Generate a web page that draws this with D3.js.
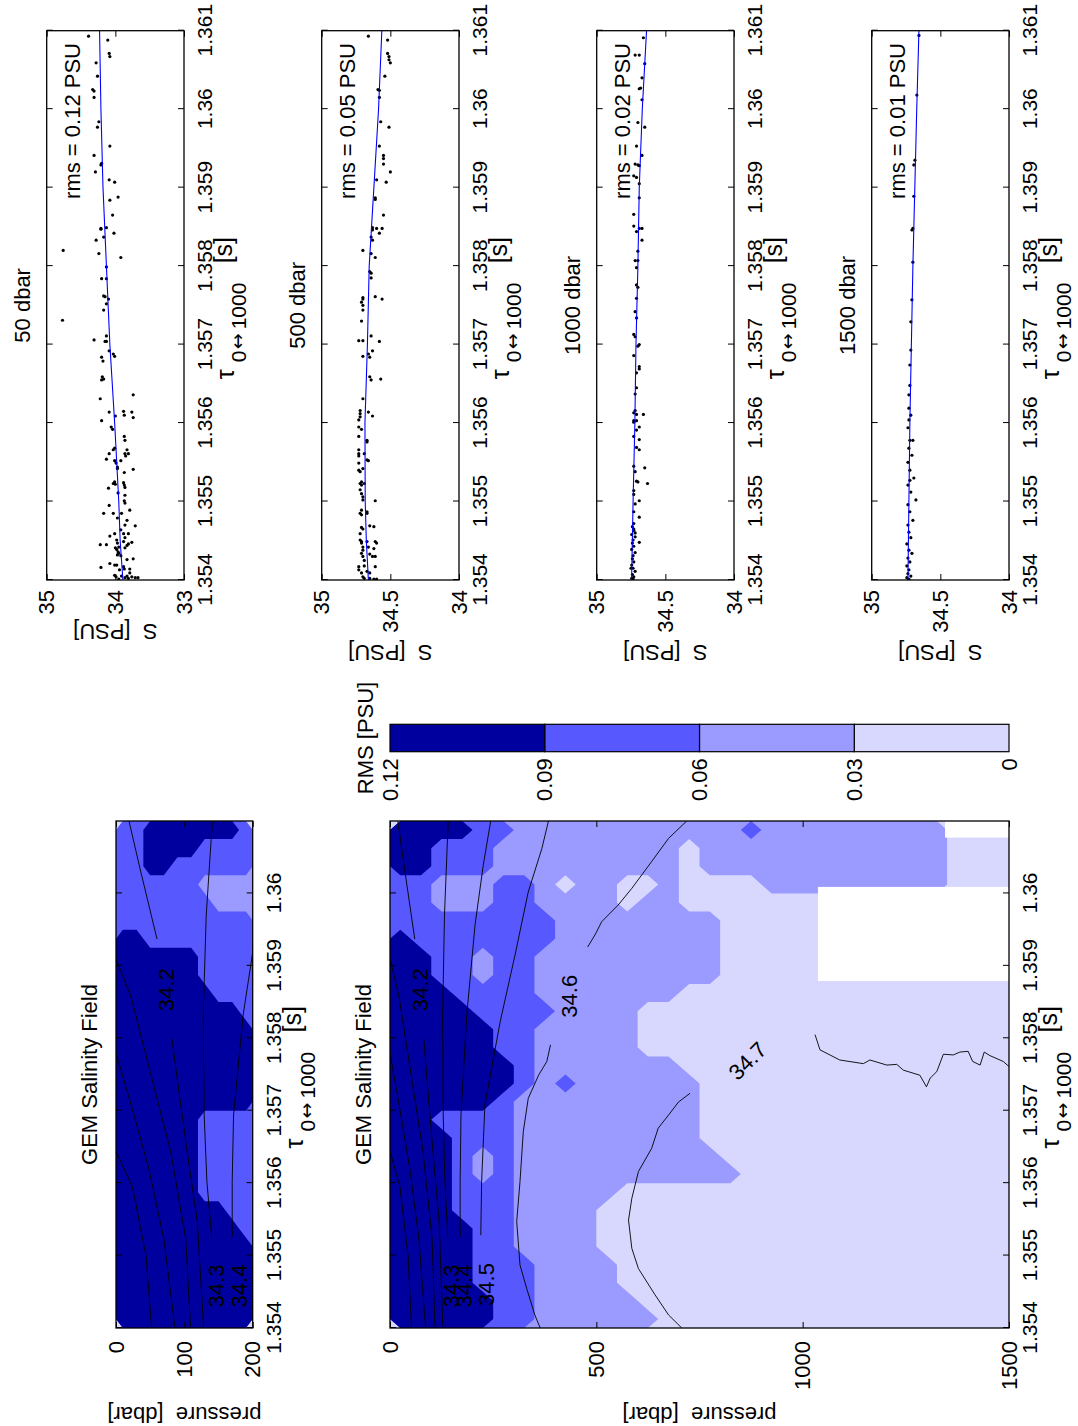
<!DOCTYPE html>
<html>
<head>
<meta charset="utf-8">
<script src="https://cdn.jsdelivr.net/npm/d3@7"></script>
<style>
html, body { margin: 0; padding: 0; background: #fff; }
svg { display: block; font-family: "Liberation Sans", Arial, Helvetica, sans-serif; }
</style>
</head>
<body>
<svg id="fig" width="1078" height="1426"></svg>
<script>
// ---------------------------------------------------------------------------
// Data
// ---------------------------------------------------------------------------
const tauDomain = [1.354, 1.361];
const tauTicks = [1.354, 1.355, 1.356, 1.357, 1.358, 1.359, 1.36, 1.361];
const tauTicksField = [1.354, 1.355, 1.356, 1.357, 1.358, 1.359, 1.36];

const depths = [50, 500, 1000, 1500];
const rmsValues = [0.12, 0.05, 0.02, 0.01];
const salinityDomains = [[33, 35], [34, 35], [34, 35], [34, 35]];
const salinityTicks = [[35, 34, 33], [35, 34.5, 34], [35, 34.5, 34], [35, 34.5, 34]];

// salinity observations [tau, S] at each pressure level
const obs50 = [
[1.36093,34.39],[1.36088,34.11],[1.36071,34.09],[1.36067,34.08],[1.36059,34.28],[1.36042,34.26],
[1.36025,34.33],[1.36023,34.31],[1.36015,34.31],[1.35984,34.24],[1.35977,34.26],[1.35953,34.08],
[1.35941,34.31],[1.35931,34.20],[1.35929,34.21],[1.35920,34.29],[1.35910,34.09],[1.35907,34.01],
[1.35888,33.96],[1.35884,34.08],[1.35865,34.04],[1.35849,34.13],[1.35848,34.21],[1.35847,34.21],
[1.35842,34.02],[1.35837,34.17],[1.35833,34.28],[1.35820,34.76],[1.35816,34.24],[1.35811,33.92],
[1.35799,34.13],[1.35784,34.20],[1.35784,34.13],[1.35762,34.17],[1.35761,34.15],[1.35758,34.10],
[1.35752,34.13],[1.35744,34.17],[1.35731,34.77],[1.35706,34.31],[1.35704,34.13],[1.35711,34.13],
[1.35704,34.15],[1.35692,34.09],[1.35688,34.03],[1.35685,34.01],[1.35684,34.20],[1.35679,34.18],
[1.35659,34.19],[1.35656,34.17],[1.35655,34.20],[1.35636,33.74],[1.35631,34.22],[1.35614,34.09],
[1.35609,34.00],[1.35615,33.88],[1.35610,33.87],[1.35614,33.76],[1.35607,33.74],[1.35603,34.20],
[1.35595,34.06],[1.35592,34.04],[1.35583,33.87],[1.35578,33.86],[1.35568,34.01],[1.35566,34.03],
[1.35566,33.83],[1.35561,33.81],[1.35561,34.09],[1.35561,33.86],[1.35558,33.85],[1.35554,34.13],
[1.35552,34.01],[1.35549,33.99],[1.35552,33.92],[1.35544,33.97],[1.35542,33.97],[1.35541,33.74],
[1.35537,33.87],[1.35525,34.01],[1.35522,34.00],[1.35523,34.03],[1.35524,33.88],[1.35521,33.87],
[1.35518,33.86],[1.35517,34.10],[1.35511,33.96],[1.35508,33.86],[1.35501,33.87],[1.35498,33.86],
[1.35495,34.09],[1.35489,33.79],[1.35485,34.17],[1.35485,34.03],[1.35485,33.91],[1.35479,33.97],
[1.35476,33.83],[1.35470,33.86],[1.35469,33.71],[1.35464,33.92],[1.35459,34.01],[1.35456,34.08],
[1.35459,33.88],[1.35454,33.86],[1.35459,33.81],[1.35445,34.22],[1.35445,34.13],[1.35448,33.76],
[1.35451,33.98],[1.35447,33.97],[1.35442,33.95],[1.35441,34.00],[1.35439,33.98],[1.35436,33.96],
[1.35449,33.88],[1.35444,33.83],[1.35441,33.86],[1.35446,33.81],[1.35434,33.95],[1.35431,33.92],
[1.35432,33.97],[1.35427,33.74],[1.35426,33.83],[1.35421,34.08],[1.35419,34.01],[1.35419,33.98],
[1.35416,34.21],[1.35417,33.88],[1.35414,33.87],[1.35413,33.94],[1.35414,33.79],[1.35406,34.01],
[1.35404,33.99],[1.35405,33.91],[1.35403,33.86],[1.35405,33.83],[1.35402,33.81],[1.35404,33.76],
[1.35403,33.71],[1.35403,33.67],[1.35409,33.79],[1.35401,33.95]
];
const obs500 = [
[1.36093,34.66],[1.36088,34.52],[1.36071,34.52],[1.36067,34.51],[1.36063,34.51],[1.36059,34.50],
[1.36042,34.54],[1.36025,34.59],[1.36024,34.58],[1.36015,34.58],[1.35984,34.57],[1.35977,34.51],
[1.35953,34.58],[1.35941,34.55],[1.35937,34.55],[1.35930,34.55],[1.35920,34.50],[1.35910,34.60],
[1.35907,34.53],[1.35887,34.61],[1.35885,34.61],[1.35865,34.55],[1.35849,34.63],[1.35846,34.63],
[1.35848,34.60],[1.35848,34.56],[1.35842,34.58],[1.35837,34.64],[1.35833,34.63],[1.35820,34.70],
[1.35816,34.64],[1.35811,34.61],[1.35793,34.65],[1.35791,34.64],[1.35785,34.64],[1.35760,34.70],
[1.35761,34.61],[1.35758,34.56],[1.35758,34.70],[1.35754,34.71],[1.35750,34.70],[1.35744,34.70],
[1.35730,34.71],[1.35711,34.64],[1.35705,34.73],[1.35705,34.70],[1.35704,34.58],[1.35692,34.63],
[1.35688,34.66],[1.35684,34.65],[1.35685,34.70],[1.35659,34.65],[1.35655,34.64],[1.35656,34.57],
[1.35631,34.70],[1.35614,34.66],[1.35609,34.63],[1.35616,34.72],[1.35612,34.72],[1.35608,34.72],
[1.35604,34.73],[1.35595,34.73],[1.35592,34.71],[1.35583,34.73],[1.35578,34.67],[1.35576,34.67],
[1.35566,34.73],[1.35561,34.73],[1.35561,34.69],[1.35558,34.73],[1.35553,34.67],[1.35552,34.66],
[1.35549,34.73],[1.35542,34.70],[1.35540,34.73],[1.35538,34.72],[1.35525,34.71],[1.35523,34.72],
[1.35521,34.71],[1.35523,34.69],[1.35515,34.72],[1.35510,34.71],[1.35506,34.70],[1.35502,34.70],
[1.35501,34.61],[1.35489,34.71],[1.35485,34.72],[1.35483,34.71],[1.35487,34.67],[1.35485,34.67],
[1.35469,34.65],[1.35468,34.62],[1.35467,34.71],[1.35465,34.70],[1.35459,34.72],[1.35451,34.72],
[1.35449,34.71],[1.35447,34.71],[1.35442,34.70],[1.35438,34.70],[1.35449,34.67],[1.35442,34.66],
[1.35449,34.61],[1.35447,34.60],[1.35440,34.62],[1.35434,34.71],[1.35430,34.70],[1.35425,34.69],
[1.35433,34.65],[1.35430,34.63],[1.35430,34.61],[1.35417,34.73],[1.35413,34.73],[1.35409,34.71],
[1.35418,34.69],[1.35411,34.67],[1.35409,34.65],[1.35417,34.61],[1.35404,34.70],[1.35402,34.69],
[1.35402,34.65],[1.35401,34.62],[1.35401,34.60]
];
const obs1000 = [
[1.36091,34.66],[1.36069,34.72],[1.36069,34.69],[1.36058,34.65],[1.36040,34.67],[1.36026,34.69],
[1.36027,34.68],[1.36012,34.67],[1.35983,34.70],[1.35977,34.65],[1.35953,34.71],[1.35941,34.67],
[1.35930,34.72],[1.35929,34.70],[1.35928,34.69],[1.35915,34.73],[1.35913,34.71],[1.35905,34.69],
[1.35887,34.69],[1.35866,34.73],[1.35851,34.73],[1.35844,34.71],[1.35848,34.69],[1.35848,34.67],
[1.35833,34.67],[1.35819,34.70],[1.35807,34.72],[1.35807,34.70],[1.35798,34.71],[1.35776,34.71],
[1.35773,34.70],[1.35759,34.71],[1.35742,34.72],[1.35734,34.71],[1.35713,34.73],[1.35710,34.72],
[1.35700,34.69],[1.35698,34.70],[1.35686,34.73],[1.35672,34.69],[1.35669,34.69],[1.35664,34.71],
[1.35645,34.71],[1.35637,34.72],[1.35616,34.72],[1.35613,34.73],[1.35611,34.71],[1.35611,34.66],
[1.35603,34.73],[1.35601,34.73],[1.35603,34.71],[1.35595,34.69],[1.35591,34.71],[1.35583,34.73],
[1.35579,34.69],[1.35569,34.71],[1.35566,34.69],[1.35543,34.65],[1.35545,34.73],[1.35538,34.72],
[1.35526,34.71],[1.35525,34.70],[1.35523,34.63],[1.35514,34.73],[1.35509,34.73],[1.35501,34.69],
[1.35497,34.72],[1.35487,34.73],[1.35480,34.69],[1.35472,34.73],[1.35465,34.73],[1.35460,34.72],
[1.35448,34.69],[1.35468,34.74],[1.35463,34.73],[1.35458,34.745],[1.35455,34.72],[1.35451,34.735],
[1.35447,34.74],[1.35443,34.73],[1.35439,34.745],[1.35435,34.72],[1.35431,34.735],[1.35427,34.74],
[1.35423,34.73],[1.35419,34.745],[1.35415,34.735],[1.35411,34.72],[1.35407,34.74],[1.35404,34.73],
[1.35402,34.745],[1.35401,34.735],[1.35415,34.75]
];
const obs1500 = [
[1.36094,34.656],[1.36018,34.671],[1.35935,34.685],[1.35929,34.693],[1.35889,34.693],[1.35848,34.700],
[1.35846,34.707],[1.35805,34.700],[1.35757,34.707],[1.35729,34.715],[1.35693,34.715],[1.35674,34.722],
[1.35648,34.722],[1.35636,34.729],[1.35619,34.729],[1.35610,34.715],[1.35604,34.729],[1.35594,34.736],
[1.35578,34.722],[1.35578,34.700],[1.35568,34.729],[1.35559,34.707],[1.35550,34.736],[1.35540,34.722],
[1.35530,34.693],[1.35527,34.722],[1.35521,34.736],[1.35512,34.715],[1.35502,34.678],[1.35496,34.736],
[1.35487,34.722],[1.35476,34.700],[1.35470,34.736],[1.35461,34.729],[1.35454,34.715],[1.35446,34.744],
[1.35438,34.729],[1.35434,34.707],[1.35428,34.736],[1.35423,34.722],[1.35418,34.744],[1.35413,34.729],
[1.35408,34.736],[1.35405,34.715],[1.35403,34.744],[1.35401,34.729]
];
// fitted salinity–tau relation at each level [tau, S]
const fit50 = [[1.354,33.89],[1.3545,33.93],[1.355,33.95],[1.356,34.01],[1.357,34.08],[1.358,34.13],[1.359,34.18],[1.36,34.21],[1.361,34.23]];
const fit500 = [[1.354,34.66],[1.3545,34.675],[1.355,34.683],[1.356,34.685],[1.357,34.667],[1.358,34.654],[1.359,34.62],[1.36,34.586],[1.361,34.562]];
const fit1000 = [[1.354,34.746],[1.355,34.735],[1.356,34.722],[1.357,34.714],[1.358,34.70],[1.359,34.69],[1.36,34.668],[1.361,34.637]];
const fit1500 = [[1.354,34.736],[1.356,34.722],[1.358,34.70],[1.36,34.672],[1.361,34.656]];

// RMS colour classes
const rmsLevels = [0, 0.03, 0.06, 0.09, 0.12];
const rmsColors = ["#d8d8ff", "#9a9aff", "#5858ff", "#00009f"];
const classRms = { W: 0.015, L: 0.045, M: 0.075, D: 0.105 };

// RMS field, one string per tau column (1.354 -> 1.361, step 0.00025),
// one character per 50 dbar pressure cell (0 -> 1500 dbar)
const rmsFull = [
"DDDDDMMLLLLLLWWWWWWWWWWWWWWWWW",
"DDDDDMMLLLLLWWWWWWWWWWWWWWWWWW",
"DDDDMMMLLLLWWWWWWWWWWWWWWWWWWW",
"DDDDMMMLLLLWWWWWWWWWWWWWWWWWWW",
"DDDDMMLLLLWWWWWWWWWWWWWWWWWWWW",
"DDDDMMLLLLWWWWWWWWWWWWWWWWWWWW",
"DDDMMMLLLLWWWWWWWWWWWWWWWWWWWW",
"DDDMMMLLLLLWWWWWWWWWWWWWWWWWWW",
"DDDMLMLLLLLLLLLLLWWWWWWWWWWWWW",
"DDDMLMLLLLLLLLLLWWWWWWWWWWWWWW",
"DDDMMMLLLLLLLLLWWWWWWWWWWWWWWW",
"DDMMMMLLLLLLLLLWWWWWWWWWWWWWWW",
"DDDDDMLLLLLLLLLWWWWWWWWWWWWWWW",
"DDDDDDMLMLLLLLLWWWWWWWWWWWWWWW",
"DDDDDDMLLLLLLLWWWWWWWWWWWWWWWW",
"DDDDDMMLLLLLWWWWWWWWWWWWWWWWWW",
"DDDDDMMLLLLLWWWWWWWWWWWWWWWWWW",
"DDDDMMMMLLLLWWWWWWWWWWWWWWWWWW",
"DDDMMMMLLLLLLLWWWWWWWWWWWWWWWW",
"DDMMLMMLLLLLLLLLWWWWWWWWWWWWWW",
"DDMMLMMLLLLLLLLLWWWWWWWWWWWWWW",
"DMMMMMMMLLLLLLLLWWWWWWWWWWWWWW",
"MMMMMMMMLLLLLLLLWWWWWWWWWWWWWW",
"MMLLLMMLLLLWLLWWWWWWWWWWWWWWWW",
"MMLLLMMLWLLWWLWWWWLLLLLLLLLWWW",
"DDMMMLLLLLLLLLWLLLLLLLLLLLLWWW",
"DDMMMLLLLLLLLLWLLLLLLLLLLLLWWW",
"DDDDMMLLLLLLLLLLLMLLLLLLLLLWWW"
];
// upper 200 dbar at 20 dbar resolution
const rmsShallow = [
"DDDDDDDDDD","DDDDDDDDDD","DDDDDDDDDD","DDDDDDDDDD","DDDDDDDDDD",
"DDDDDDDDDM","DDDDDDDDMM","DDDDDDMMMM","DDDDDDMMMM","DDDDDDMMMM",
"DDDDDDMMMM","DDDDDDMMMM","DDDDDDDDDD","DDDDDDDDDD","DDDDDDDDDD",
"DDDDDDDDDD","DDDDDDDDDD","DDDDDDDDDM","DDDDDDDMMM","DDDDDDMMMM",
"DDDDDDMMMM","DDMMMMMMMM","MMMMMMMMMM","MMMMMMMLLL","MMMMMMLLLL",
"MMDDMMMMMM","MMDDDDMMMM","MMDDDDDDDM"
];
// regions without data [tau0, tau1, p0, p1]
const missingBoxes = [[1.35879, 1.36009, 1037, 1500], [1.36077, 1.361, 1345, 1500]];

// isohalines [tau, pressure]
const isohalines = [
 { s: 33.9, pts: [[1.35644,0],[1.35595,24],[1.35499,44],[1.35402,52]] },
 { s: 34.0, pts: [[1.35780,0],[1.35702,24],[1.35620,48],[1.35523,70],[1.35402,86]] },
 { s: 34.1, pts: [[1.35910,0],[1.35857,22],[1.35750,51],[1.35644,80],[1.35523,102],[1.35402,109]] },
 { s: 34.2, pts: [[1.36100,19],[1.36031,36],[1.35937,60]] },
 { s: 34.2, pts: [[1.35799,82],[1.35741,90],[1.35644,104],[1.35547,119],[1.35402,128]] },
 { s: 34.3, pts: [[1.36100,141],[1.35970,132],[1.35832,127.6],[1.35694,129],[1.35602,133],[1.35526,140]] },
 { s: 34.4, pts: [[1.36100,244],[1.36039,226],[1.35956,206],[1.35832,186],[1.35694,172],[1.35602,170],[1.35526,170]] },
 { s: 34.5, pts: [[1.36100,384],[1.36062,368],[1.36002,335],[1.35915,303],[1.35823,267],[1.35708,230],[1.35602,222],[1.35528,220]] },
 { s: 34.6, pts: [[1.36100,719],[1.36076,675],[1.36044,634],[1.36007,586],[1.35984,553],[1.35961,513],[1.35943,497],[1.35926,479]] },
 { s: 34.6, pts: [[1.35791,389],[1.35768,380],[1.35749,360],[1.35717,335],[1.35671,323],[1.35602,315],[1.35547,307],[1.35487,315],[1.35455,331],[1.35418,351],[1.354,364]] },
 { s: 34.7, pts: [[1.35724,727],[1.35712,699],[1.35694,675],[1.35676,650],[1.35648,634],[1.35616,602],[1.35579,586],[1.35549,578],[1.35510,586],[1.35482,602],[1.35446,642],[1.35418,675],[1.354,707]] },
 { s: 34.7, pts: [[1.35805,1030],[1.35784,1042],[1.35770,1090],[1.35765,1147],[1.35770,1163],[1.35763,1204],[1.35764,1228],[1.35756,1244],[1.35749,1284],[1.35733,1300],[1.35745,1309],[1.35754,1325],[1.35778,1341],[1.35777,1365],[1.35781,1381],[1.35782,1401],[1.35768,1412],[1.35763,1430],[1.35781,1440],[1.35776,1454],[1.35768,1486],[1.35761,1500]] }
];
const isohalineLabels = [
 { s: 34.2, tau: 1.35867, p: 73, rot: 0 },
 { s: 34.3, tau: 1.35458, p: 147, rot: 0 },
 { s: 34.4, tau: 1.35458, p: 180, rot: 0 },
 { s: 34.5, tau: 1.35460, p: 234, rot: 0 },
 { s: 34.6, tau: 1.35858, p: 434, rot: 0 },
 { s: 34.7, tau: 1.35769, p: 866, rot: 45 }
];

// ---------------------------------------------------------------------------
// Figure: laid out landscape, turned onto the portrait page
// ---------------------------------------------------------------------------
const svg = d3.select("#fig");
svg.append("rect").attr("width", 1078).attr("height", 1426).attr("fill", "#fff");
const root = svg.append("g").attr("transform", "translate(0,1426) rotate(-90)");
const defs = svg.append("defs");
const fmt = d3.format("~g");
const FS = 22, TFS = 21;

function styleAxis(g, size) {
  g.select(".domain").remove();
  g.attr("font-family", null).attr("font-size", size);
  g.selectAll(".tick line").attr("stroke", "#000").attr("stroke-width", 1);
  g.selectAll(".tick text").attr("fill", "#000");
}

function frameAxes(g, x, y, xTicks, yTicks, x0, x1, y0, y1, yPad) {
  g.append("g").attr("transform", `translate(0,${y1})`)
    .call(d3.axisBottom(x).tickValues(xTicks).tickFormat(fmt).tickSize(-6).tickPadding(13.5))
    .call(a => styleAxis(a, TFS));
  g.append("g").attr("transform", `translate(0,${y0})`)
    .call(d3.axisTop(x).tickValues(xTicks).tickFormat("").tickSize(-6))
    .call(a => styleAxis(a, TFS));
  g.append("g").attr("transform", `translate(${x0},0)`)
    .call(d3.axisLeft(y).tickValues(yTicks).tickFormat(fmt).tickSize(-6).tickPadding(yPad))
    .call(a => styleAxis(a, FS));
  g.append("g").attr("transform", `translate(${x1},0)`)
    .call(d3.axisRight(y).tickValues(yTicks).tickFormat("").tickSize(-6))
    .call(a => styleAxis(a, FS));
  g.append("rect").attr("x", x0).attr("y", y0).attr("width", x1 - x0).attr("height", y1 - y0)
    .attr("fill", "none").attr("stroke", "#000").attr("stroke-width", 1.3);
}

// x-axis title: tau with its subscript, then the unit
function tauLabel(g, cx, yb) {
  const t = g.append("text").attr("y", yb);
  t.append("tspan").attr("x", cx - 74).attr("font-size", 25).text("\u03c4");
  t.append("tspan").attr("x", cx - 57).attr("y", yb + 12).attr("font-size", 21).text("0");
  t.append("tspan").attr("x", cx - 44).attr("y", yb + 10).attr("font-size", 19)
    .attr("font-family", "DejaVu Sans").text("\u2194");
  t.append("tspan").attr("x", cx - 24).attr("y", yb + 12).attr("font-size", 21).text("1000");
  t.append("tspan").attr("x", cx + 42).attr("y", yb - 2).attr("font-size", 25).text("[s]");
}

// ---- scatter panels -------------------------------------------------------
const obsSets = [obs50, obs500, obs1000, obs1500];
const fitSets = [fit50, fit500, fit1000, fit1500];
const sx = d3.scaleLinear().domain(tauDomain).range([846, 1395.3]);
const sCx = (846 + 1395.3) / 2;

depths.forEach((depth, i) => {
  const top = 46.7 + 275 * i, bottom = top + 137.3;
  const sy = d3.scaleLinear().domain(salinityDomains[i]).range([bottom, top]);
  const g = root.append("g");
  const clipId = "clipS" + i;
  defs.append("clipPath").attr("id", clipId).append("rect")
    .attr("x", 846).attr("y", top).attr("width", 1395.3 - 846).attr("height", bottom - top);
  const inner = g.append("g").attr("clip-path", `url(#${clipId})`);
  inner.selectAll("circle").data(obsSets[i]).join("circle")
    .attr("cx", d => sx(d[0])).attr("cy", d => sy(d[1])).attr("r", 1.6).attr("fill", "#000");
  inner.append("path").datum(fitSets[i])
    .attr("d", d3.line().x(d => sx(d[0])).y(d => sy(d[1])))
    .attr("fill", "none").attr("stroke", "#0000ff").attr("stroke-width", 1.1);
  frameAxes(g, sx, sy, tauTicks, salinityTicks[i], 846, 1395.3, top, bottom, 10);
  g.append("text").attr("x", sCx).attr("y", top - 16.7).attr("text-anchor", "middle")
    .attr("font-size", FS).text(`${depth} dbar`);
  g.append("text").attr("x", 1383).attr("y", top + 33).attr("text-anchor", "end")
    .attr("font-size", FS).text(`rms = ${rmsValues[i].toFixed(2)} PSU`);
  const labX = i === 0 ? 802 : 781;
  g.append("text").attr("transform", `translate(${labX},${(top + bottom) / 2}) rotate(-90)`)
    .attr("text-anchor", "middle").attr("font-size", FS).text("S\u00a0 [PSU]");
  tauLabel(g, sCx, bottom + 50);
});

// ---- RMS fields with isohalines --------------------------------------------
const cx = d3.scaleLinear().domain(tauDomain).range([98, 605]);
const cCx = (98 + 605) / 2;

function fieldPanel(cols, pMax, pTicks, top, bottom, id) {
  const py = d3.scaleLinear().domain([0, pMax]).range([top, bottom]);
  const g = root.append("g");
  defs.append("clipPath").attr("id", id).append("rect")
    .attr("x", 98).attr("y", top).attr("width", 605 - 98).attr("height", bottom - top);
  const inner = g.append("g").attr("clip-path", `url(#${id})`);

  const nx = cols.length, ny = cols[0].length;
  const values = new Array(nx * ny);
  for (let j = 0; j < ny; j++) for (let i = 0; i < nx; i++) values[j * nx + i] = classRms[cols[i][j]];
  const gx = d3.scaleLinear().domain([0, nx]).range(tauDomain);
  const gy = d3.scaleLinear().domain([0, ny]).range([0, pMax]);
  const path = d3.geoPath(d3.geoTransform({
    point(x, y) { this.stream.point(cx(gx(x)), py(gy(y))); }
  }));
  inner.append("rect").attr("x", 98).attr("y", top).attr("width", 605 - 98).attr("height", bottom - top)
    .attr("fill", rmsColors[0]);
  const bands = d3.contours().size([nx, ny]).thresholds(rmsLevels.slice(1, 4))(values);
  inner.selectAll("path.band").data(bands).join("path").attr("class", "band")
    .attr("d", path).attr("fill", d => rmsColors[rmsLevels.indexOf(d.value)]);

  inner.selectAll("rect.gap").data(missingBoxes).join("rect").attr("class", "gap")
    .attr("x", d => cx(d[0])).attr("width", d => cx(d[1]) - cx(d[0]))
    .attr("y", d => py(d[2])).attr("height", d => py(d[3]) - py(d[2]))
    .attr("fill", "#fff");

  inner.selectAll("path.iso").data(isohalines).join("path").attr("class", "iso")
    .attr("d", d => d3.line().x(q => cx(q[0])).y(q => py(q[1]))(d.pts))
    .attr("fill", "none").attr("stroke", "#000").attr("stroke-width", 0.9);
  inner.selectAll("text.lab").data(isohalineLabels).join("text").attr("class", "lab")
    .attr("transform", d => `translate(${cx(d.tau)},${py(d.p)}) rotate(${d.rot})`)
    .attr("text-anchor", "middle").attr("dy", "0.36em").attr("font-size", FS)
    .text(d => d.s.toFixed(1));

  frameAxes(g, cx, py, tauTicksField, pTicks, 98, 605, top, bottom, 13);
  g.append("text").attr("x", cCx).attr("y", top - 19).attr("text-anchor", "middle")
    .attr("font-size", FS).text("GEM Salinity Field");
  g.append("text").attr("transform", `translate(19,${(top + bottom) / 2}) rotate(-90)`)
    .attr("text-anchor", "middle").attr("font-size", FS).text("pressure\u00a0 [dbar]");
  tauLabel(g, cCx, bottom + 50);
}

fieldPanel(rmsShallow, 200, [0, 100, 200], 116, 252.7, "clipF0");
fieldPanel(rmsFull, 1500, [0, 500, 1000, 1500], 390, 1009, "clipF1");

// ---- colour bar -------------------------------------------------------------
const cb = d3.scaleLinear().domain([0.12, 0]).range([390, 1009]);
const cbg = root.append("g");
const cbX = 674.3, cbW = 27.4;
cbg.selectAll("rect").data(d3.range(4)).join("rect")
  .attr("x", cbX).attr("width", cbW)
  .attr("y", i => cb(rmsLevels[i + 1])).attr("height", i => cb(rmsLevels[i]) - cb(rmsLevels[i + 1]))
  .attr("fill", i => rmsColors[i]).attr("stroke", "#000").attr("stroke-width", 1.2);
cbg.append("g").attr("transform", `translate(${cbX},0)`)
  .call(d3.axisLeft(cb).tickValues(rmsLevels).tickFormat(fmt).tickSize(0).tickPadding(6.5))
  .call(a => styleAxis(a, FS));
cbg.append("text").attr("x", cbX + cbW / 2).attr("y", 373).attr("text-anchor", "middle")
  .attr("font-size", FS).text("RMS [PSU]");
</script>
</body>
</html>
